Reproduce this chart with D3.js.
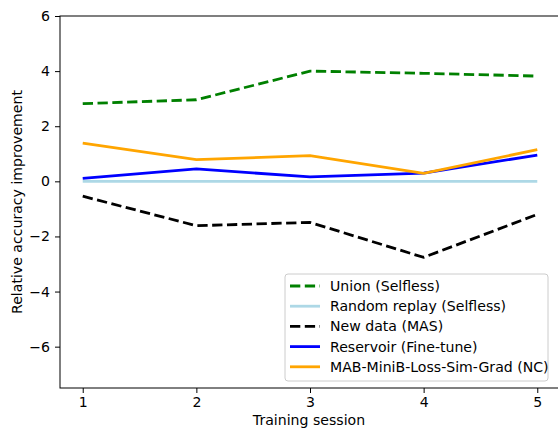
<!DOCTYPE html>
<html><head><meta charset="utf-8">
<script src="https://cdn.jsdelivr.net/npm/d3@7"></script>
<style>body{margin:0;background:#fff}svg{display:block;font-family:"DejaVu Sans",sans-serif}</style>
</head><body><svg id="c" width="558" height="431"></svg>
<script>
const sessions = [1, 2, 3, 4, 5];
const unionSelfless = [2.82, 2.96, 4.0, 3.92, 3.82];
const randomReplay = [0, 0, 0, 0, 0];
const newDataMAS = [-0.54, -1.61, -1.49, -2.76, -1.2];
const reservoirFT = [0.11, 0.45, 0.16, 0.30, 0.95];
const mabNC = [1.39, 0.79, 0.93, 0.29, 1.15];
const yTicks = [-6, -4, -2, 0, 2, 4, 6];
const seriesNames = ["Union (Selfless)", "Random replay (Selfless)", "New data (MAS)", "Reservoir (Fine-tune)", "MAB-MiniB-Loss-Sim-Grad (NC)"];
const seriesColors = ["#008000", "#add8e6", "#000000", "#0000ff", "#ffa500"];
const seriesDashed = [true, false, true, false, false];
const seriesValues = [unionSelfless, randomReplay, newDataMAS, reservoirFT, mabNC];

const FS = 14.1;
const svg = d3.select("#c");
const L = 60, T = 16, B = 388, R = 560;
const x = d3.scaleLinear().domain([0.8, 5.2]).range([L, R]);
const y = d3.scaleLinear().domain([-7.5, 6]).range([B, T]);

const g = svg.append("g");
const line = d3.line().x((d, i) => x(sessions[i])).y(d => y(d));
seriesValues.forEach((vals, k) => {
  g.append("path").datum(vals).attr("d", line)
    .attr("fill", "none").attr("stroke", seriesColors[k]).attr("stroke-width", 2.8)
    .attr("stroke-dasharray", seriesDashed[k] ? "10.3,4.5" : null);
});

svg.append("rect").attr("x", L).attr("y", T).attr("width", R - L).attr("height", B - T)
  .attr("fill", "none").attr("stroke", "#000").attr("stroke-width", 1);

const xAxis = svg.append("g").attr("transform", `translate(0,${B})`)
  .call(d3.axisBottom(x).tickValues(sessions).tickFormat(d3.format("d")).tickSize(5).tickPadding(4));
const yAxis = svg.append("g").attr("transform", `translate(${L},0)`)
  .call(d3.axisLeft(y).tickValues(yTicks).tickFormat(d => d < 0 ? "\u2212" + Math.abs(d) : d).tickSize(5).tickPadding(5));
[xAxis, yAxis].forEach(a => {
  a.select(".domain").remove();
  a.selectAll("text").attr("font-size", FS).attr("fill", "#000").attr("font-family", "DejaVu Sans");
  a.selectAll("line").attr("stroke", "#000");
});

svg.append("text").attr("x", 309).attr("y", 425).attr("text-anchor", "middle")
  .attr("font-size", FS).text("Training session");
svg.append("text").attr("transform", `translate(22,202) rotate(-90)`).attr("text-anchor", "middle")
  .attr("font-size", FS).text("Relative accuracy improvement");

const lg = svg.append("g");
lg.append("rect").attr("x", 285).attr("y", 274).attr("width", 263).attr("height", 107).attr("rx", 3)
  .attr("fill", "#fff").attr("fill-opacity", 0.8).attr("stroke", "#cccccc");
seriesNames.forEach((n, k) => {
  const yy = 286 + k * 20.2;
  lg.append("line").attr("x1", 290).attr("x2", 320).attr("y1", yy).attr("y2", yy)
    .attr("stroke", seriesColors[k]).attr("stroke-width", 2.8)
    .attr("stroke-dasharray", seriesDashed[k] ? "10.3,4.5" : null);
  lg.append("text").attr("x", 330).attr("y", yy + 5).attr("font-size", FS).text(n);
});
</script></body></html>
